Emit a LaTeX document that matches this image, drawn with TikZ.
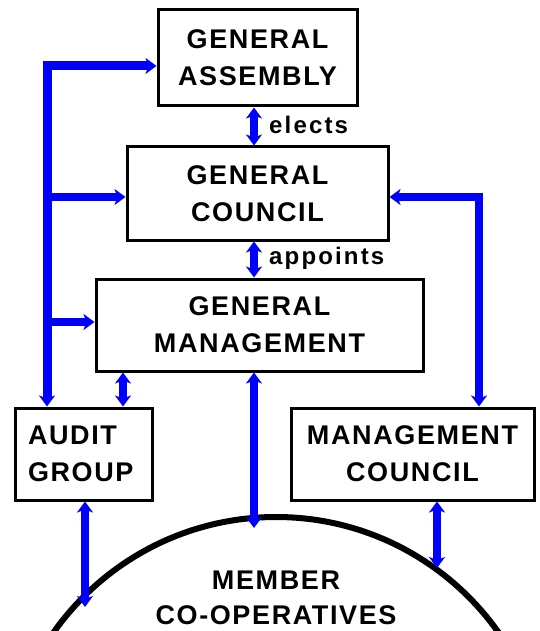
\documentclass[tikz,border=0pt]{standalone}
\usepackage{fontspec}
\setmainfont{Liberation Sans}
\newfontfamily\boxfont{Liberation Sans}[LetterSpace=6]
\newfontfamily\lblfont{Liberation Sans}[LetterSpace=9]
\usetikzlibrary{arrows.meta}
\definecolor{linkblue}{RGB}{0,0,255}
\tikzset{
  box/.style={draw=black, line width=3pt, fill=white, inner sep=0pt, align=center,
    font=\boxfont\bfseries\fontsize{27}{37}\selectfont},
  tip/.tip={Stealth[length=11pt,width=16pt,inset=3pt]},
  link/.style={draw=linkblue, line width=7.5pt, line join=miter},
  trunk/.style={draw=linkblue, line width=9pt, line join=miter},
  lbl/.style={inner sep=0pt, anchor=base west, font=\lblfont\bfseries\fontsize{24}{28}\selectfont},
}
\begin{document}
\begin{tikzpicture}[x=1pt,y=-1pt]
\useasboundingbox (0,0) rectangle (539,631);
\clip (0,0) rectangle (539,631);
% member co-operatives arc
\draw[line width=6pt] (276,789) circle[radius=272];
\node[inner sep=0pt, anchor=base, align=center, font=\boxfont\bfseries\fontsize{27}{35}\selectfont] (mem) at (276,624) {MEMBER\\CO-OPERATIVES};
% boxes
\node[box, minimum width=199, minimum height=96] (ga) at (257.5,58) {GENERAL\\ASSEMBLY};
\node[box, minimum width=261, minimum height=93] (gc) at (257.5,193.5) {GENERAL\\COUNCIL};
\node[box, minimum width=327, minimum height=92] (gm) at (259.5,325) {GENERAL\\MANAGEMENT};
\node[box, align=left, text width=111pt, inner xsep=13pt, minimum height=92] (audit) at (83.5,454) {AUDIT\\GROUP};
\node[box, minimum width=243, minimum height=92] (mc) at (412.5,454) {MANAGEMENT\\COUNCIL};
% labels
\node[lbl] (elects) at (269,134) {elects};
\node[lbl] (appoints) at (269,264) {appoints};
% coordinates
\coordinate (trunkTop) at (47,66);
\coordinate (b2) at (47,197);
\coordinate (b3) at (47,322);
\coordinate (rc) at (479,197);
\coordinate (xc) at (254,0);
\coordinate (xa) at (123,0);
\coordinate (mtop) at (254,528);
\coordinate (am) at (85,607);
\coordinate (mm) at (437,568);
% connectors
\draw[trunk, {tip}-{tip}] (ga.west |- trunkTop) -- (trunkTop) -- (audit.north -| trunkTop);
\draw[link, -{tip}] (b2) -- (gc.west |- b2);
\draw[link, -{tip}] (b3) -- (gm.west |- b3);
\draw[link, {tip}-{tip}] (gc.east |- rc) -- (rc) -- (mc.north -| rc);
\draw[link, {tip}-{tip}] (ga.south -| xc) -- (gc.north -| xc);
\draw[link, {tip}-{tip}] (gc.south -| xc) -- (gm.north -| xc);
\draw[link, {tip}-{tip}] (gm.south -| xa) -- (audit.north -| xa);
\draw[link, {tip}-{tip}] (gm.south -| xc) -- (mtop);
\draw[link, {tip}-{tip}] (audit.south -| am) -- (am);
\draw[link, {tip}-{tip}] (mc.south -| mm) -- (mm);
\end{tikzpicture}
\end{document}
